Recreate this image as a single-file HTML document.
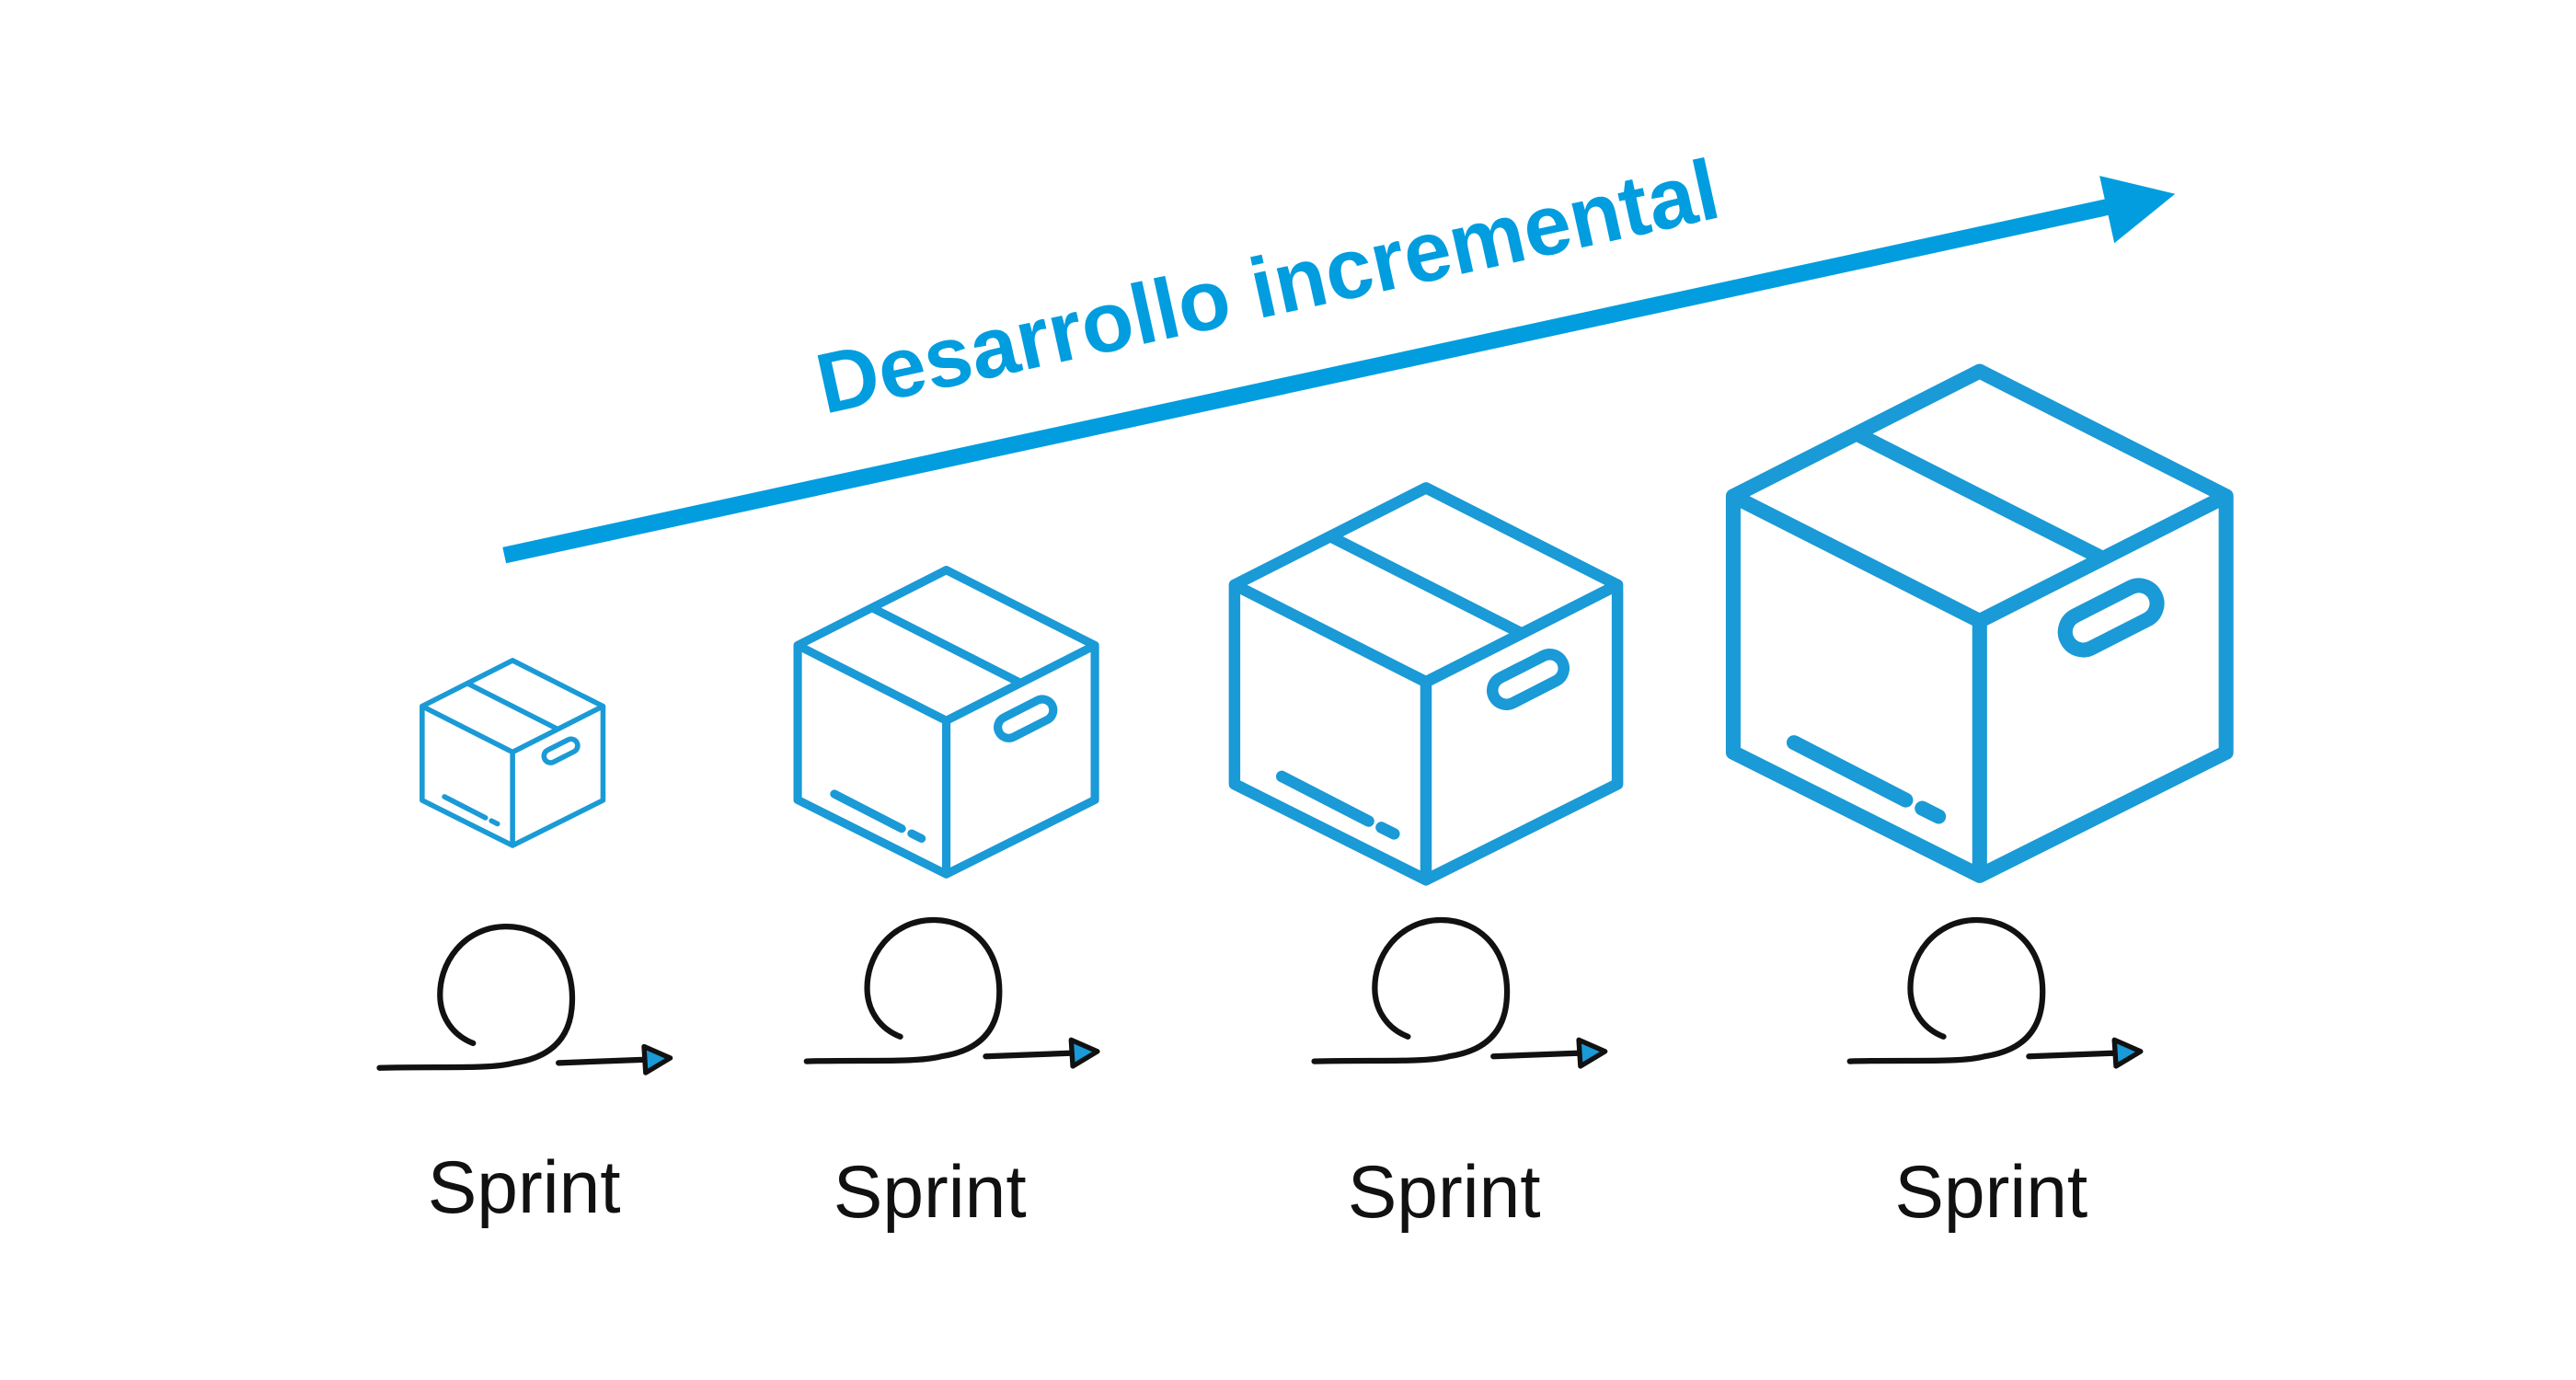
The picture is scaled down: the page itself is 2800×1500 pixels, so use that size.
<!DOCTYPE html>
<html><head><meta charset="utf-8"><style>html,body{margin:0;padding:0;background:#fff}svg{display:block}</style></head>
<body>
<svg width="2800" height="1500" viewBox="0 0 1568 840" preserveAspectRatio="none" xmlns="http://www.w3.org/2000/svg">
<defs>
<g id="box">
  <path d="M0,0 L-150,76 L-150,232 L0,307 L150,232 L150,76 Z M-150,76 L0,152 L150,76 M0,152 L0,307 M-75,38 L75,114" fill="none" stroke-linejoin="round" stroke-linecap="round"/>
  <rect x="-30" y="-11" width="60" height="22" rx="11" fill="none" transform="translate(80,150) rotate(-27)"/>
  <path d="M-113,226 L-45,261 M-35,266 L-25,271" fill="none" stroke-linecap="round"/>
</g>
<g id="loop">
  <path d="M-77,46 C-40,45 -10,47 5,43 C25,40 38,30 40,10 C43,-20 25,-40 0,-40 C-25,-40 -42,-18 -40,5 C-39,15 -33,26 -20,31" fill="none" stroke="#111" stroke-width="3.5" stroke-linecap="round"/>
  <path d="M32,43 L85,41" fill="none" stroke="#111" stroke-width="3.5" stroke-linecap="round"/>
  <path d="M84,33 L100,40 L85,49 Z" fill="#1a9ad6" stroke="#111" stroke-width="3" stroke-linejoin="round"/>
</g>
</defs>

<!-- big arrow -->
<line x1="307" y1="338" x2="1292" y2="124" stroke="#019ddf" stroke-width="10"/>
<path d="M1278,107 L1324,118 L1287,148 Z" fill="#019ddf"/>
<text x="0" y="0" transform="translate(502,252) rotate(-12.4)" font-family="Liberation Sans, sans-serif" font-weight="bold" font-size="52" fill="#019ddf" textLength="560" lengthAdjust="spacingAndGlyphs">Desarrollo incremental</text>

<!-- boxes -->
<g stroke="#1a9ad6" fill="none">
  <use href="#box" transform="translate(312,402) scale(0.367)" stroke-width="8.5"/>
  <use href="#box" transform="translate(576,347) scale(0.603)" stroke-width="8.5"/>
  <use href="#box" transform="translate(868,297) scale(0.777)" stroke-width="9"/>
  <use href="#box" transform="translate(1205,226)" stroke-width="9"/>
</g>

<!-- loops -->
<use href="#loop" transform="translate(308,604)"/>
<use href="#loop" transform="translate(568,600)"/>
<use href="#loop" transform="translate(877,600)"/>
<use href="#loop" transform="translate(1203,600)"/>

<g font-family="Liberation Sans, sans-serif" font-size="45" fill="#111" text-anchor="middle">
  <text x="319" y="738">Sprint</text>
  <text x="566" y="741">Sprint</text>
  <text x="879" y="741">Sprint</text>
  <text x="1212" y="741">Sprint</text>
</g>
</svg>
</body></html>
